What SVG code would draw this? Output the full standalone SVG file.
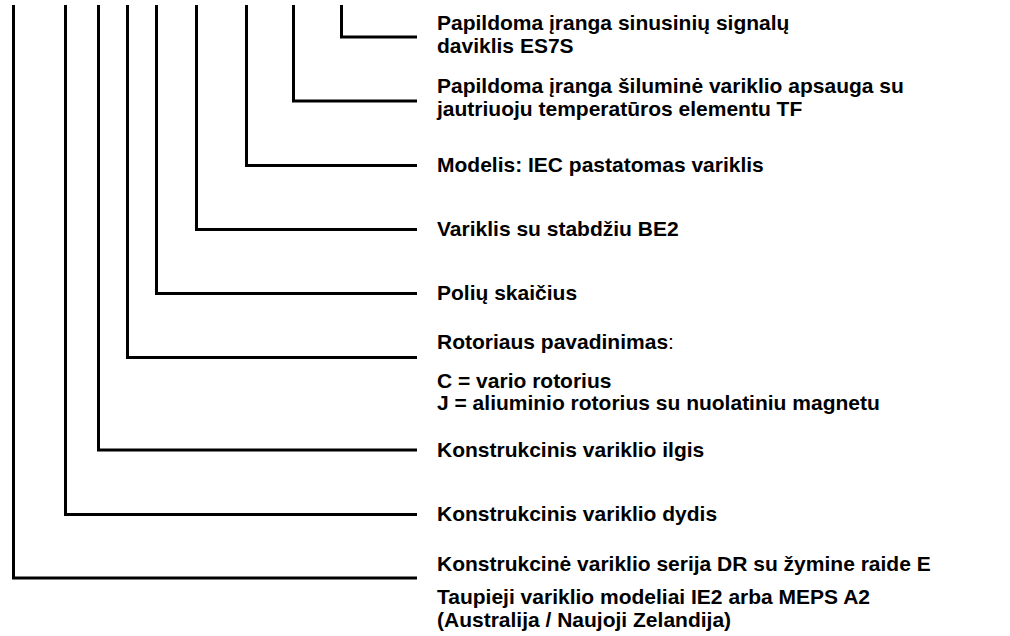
<svg xmlns="http://www.w3.org/2000/svg" width="1010" height="636" viewBox="0 0 1010 636">
<style>
.c{fill:none;stroke:#000;stroke-width:3;stroke-linejoin:miter;stroke-linecap:butt}
.t{font-family:"Liberation Sans",Arial,sans-serif;font-size:21px;font-weight:bold;fill:#000}
.n{font-weight:normal}
</style>
<rect width="1010" height="636" fill="#fff"/>
<g id="connectors">
<polyline class="c" points="341.5,5 341.5,37 417,37"/>
<polyline class="c" points="293.5,5 293.5,101 417,101"/>
<polyline class="c" points="246.5,5 246.5,165.5 417,165.5"/>
<polyline class="c" points="196.5,5 196.5,229.5 417,229.5"/>
<polyline class="c" points="156.5,5 156.5,293.5 417,293.5"/>
<polyline class="c" points="127.5,5 127.5,357.5 417,357.5"/>
<polyline class="c" points="98.5,5 98.5,450 417,450"/>
<polyline class="c" points="65.5,5 65.5,514.5 417,514.5"/>
<polyline class="c" points="13.5,5 13.5,578 417,578"/>
</g>
<g id="n1"><text class="t" x="437" y="30">Papildoma įranga sinusinių signalų</text><text class="t" x="437" y="53">daviklis ES7S</text></g>
<g id="n2"><text class="t" x="437" y="93">Papildoma įranga šiluminė variklio apsauga su</text><text class="t" x="437" y="116">jautriuoju temperatūros elementu TF</text></g>
<g id="n3"><text class="t" x="437" y="172">Modelis: IEC pastatomas variklis</text></g>
<g id="n4"><text class="t" x="437" y="236">Variklis su stabdžiu BE2</text></g>
<g id="n5"><text class="t" x="437" y="300">Polių skaičius</text></g>
<g id="n6"><text class="t" x="437" y="349">Rotoriaus pavadinimas<tspan class="n">:</tspan></text><text class="t" x="437" y="388">C = vario rotorius</text><text class="t" x="437" y="410">J = aliuminio rotorius su nuolatiniu magnetu</text></g>
<g id="n7"><text class="t" x="437" y="457">Konstrukcinis variklio ilgis</text></g>
<g id="n8"><text class="t" x="437" y="521">Konstrukcinis variklio dydis</text></g>
<g id="n9"><text class="t" x="437" y="571">Konstrukcinė variklio serija DR su žymine raide E</text><text class="t" x="437" y="604">Taupieji variklio modeliai IE2 arba MEPS A2</text><text class="t" x="437" y="627">(Australija / Naujoji Zelandija)</text></g>
</svg>
